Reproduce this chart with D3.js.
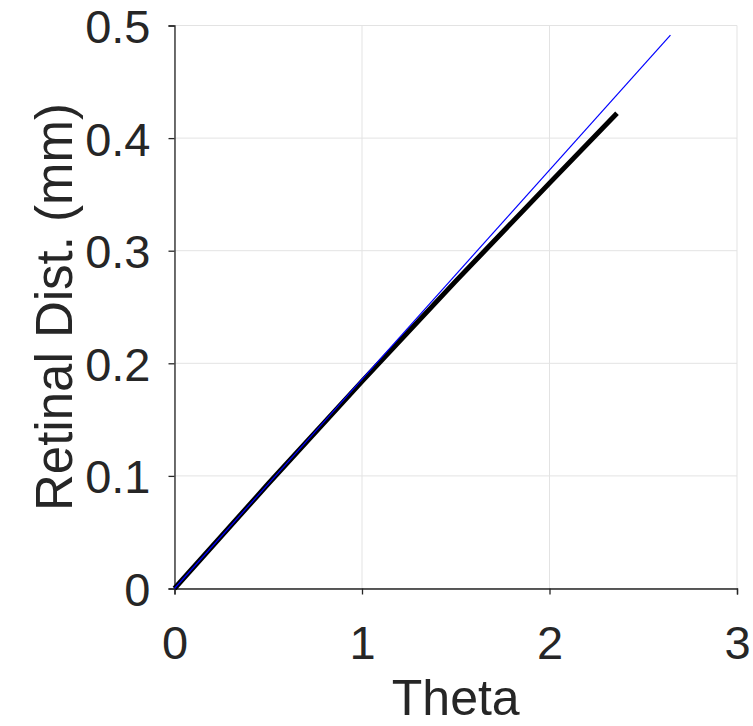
<!DOCTYPE html>
<html>
<head>
    <meta charset="UTF-8">
    <title>Retinal distance vs theta</title>
    <script src="https://cdn.jsdelivr.net/npm/d3@7"></script>
    <style>
        body { margin: 0; background: #fff; }
        text { font-family: "Liberation Sans", Arial, Helvetica, sans-serif; fill: #262626; }
    </style>
</head>
<body>
<svg id="chart" width="753" height="726"></svg>
<script>
    // values
    var xTicks = [0, 1, 2, 3];
    var yTicks = [0, 0.1, 0.2, 0.3, 0.4, 0.5];
    var blueTheta = [0, 2.645];
    var blueDist = [0, 0.4915];
    var blackTheta = [0, 0.5, 1, 1.5, 2, 2.36];
    var blackDist = [0, 0.093, 0.184, 0.273, 0.360, 0.422];

    var margin = {left: 174.5, top: 25.5, right: 16, bottom: 137.5};
    var width = 753 - margin.left - margin.right;
    var height = 726 - margin.top - margin.bottom;

    var svg = d3.select("#chart");
    var g = svg.append("g").attr("transform", "translate(" + margin.left + "," + margin.top + ")");

    var x = d3.scaleLinear().domain([0, 3]).range([0, width]);
    var y = d3.scaleLinear().domain([0, 0.5]).range([height, 0]);

    // grid
    g.append("g").selectAll("line").data(xTicks).enter().append("line")
        .attr("x1", function(d) { return x(d); })
        .attr("x2", function(d) { return x(d); })
        .attr("y1", 0).attr("y2", height)
        .attr("stroke", "#e3e3e3").attr("stroke-width", 1);
    g.append("g").selectAll("line").data(yTicks).enter().append("line")
        .attr("y1", function(d) { return y(d); })
        .attr("y2", function(d) { return y(d); })
        .attr("x1", 0).attr("x2", width)
        .attr("stroke", "#e3e3e3").attr("stroke-width", 1);

    // axes
    var xAxis = g.append("g")
        .attr("transform", "translate(0," + height + ")")
        .call(d3.axisBottom(x).tickValues(xTicks).tickSize(6).tickPadding(31).tickFormat(d3.format("d")));
    var yAxis = g.append("g")
        .call(d3.axisLeft(y).tickValues(yTicks).tickSize(6).tickPadding(18)
            .tickFormat(function(d) { return d === 0 ? "0" : d3.format(".1f")(d); }));

    [xAxis, yAxis].forEach(function(a) {
        a.select(".domain").attr("stroke", "#262626").attr("stroke-width", 1.3);
        a.selectAll(".tick line").attr("stroke", "#262626").attr("stroke-width", 1.3);
        a.selectAll(".tick text")
            .attr("font-family", "Liberation Sans, Arial, sans-serif")
            .attr("font-size", 47).attr("fill", "#262626");
    });
    yAxis.selectAll(".tick text").attr("dy", "0.36em");
    xAxis.selectAll(".tick text").attr("dy", "0.71em");

    // lines
    var line = d3.line()
        .x(function(d) { return x(d[0]); })
        .y(function(d) { return y(d[1]); })
        .curve(d3.curveMonotoneX);

    g.append("path")
        .datum(d3.zip(blackTheta, blackDist))
        .attr("d", line)
        .attr("fill", "none")
        .attr("stroke", "#000")
        .attr("stroke-width", 5);

    g.append("path")
        .datum(d3.zip(blueTheta, blueDist))
        .attr("d", line)
        .attr("fill", "none")
        .attr("stroke", "#0000ff")
        .attr("stroke-width", 1.2);

    // axis titles
    svg.append("text")
        .attr("x", margin.left + width / 2)
        .attr("y", 715)
        .attr("text-anchor", "middle")
        .attr("font-size", 50)
        .text("Theta");

    svg.append("text")
        .attr("transform", "translate(72," + (margin.top + height / 2) + ") rotate(-90)")
        .attr("text-anchor", "middle")
        .attr("font-size", 51)
        .text("Retinal Dist. (mm)");
</script>
</body>
</html>
